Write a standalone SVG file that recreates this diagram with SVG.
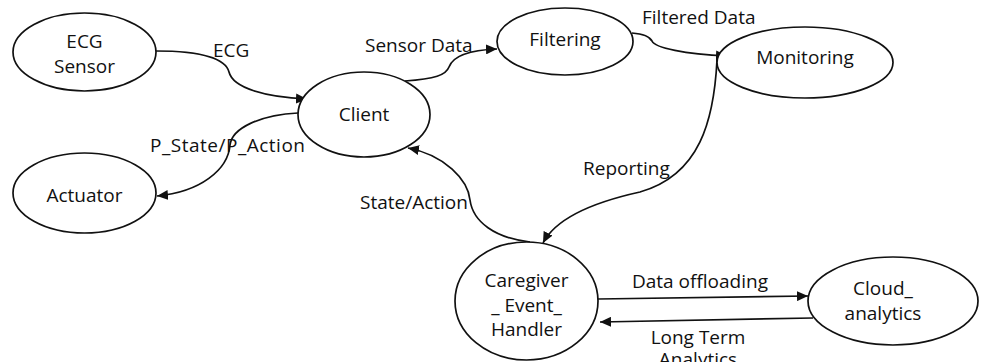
<svg xmlns="http://www.w3.org/2000/svg" width="984" height="362" viewBox="0 0 984 362">
<defs>
<style>
.n ellipse{fill:#fff;stroke:#111;stroke-width:1.7}
text{font-family:"Open Sans","Liberation Sans",sans-serif;font-size:19px;fill:#111}
.n text{text-anchor:middle}
.e path{fill:none;stroke:#111;stroke-width:1.7;marker-end:url(#ah)}
</style>
<marker id="ah" markerUnits="userSpaceOnUse" markerWidth="12" markerHeight="10" refX="11" refY="5" orient="auto">
<path d="M0,0 L11,5 L0,10 z" fill="#111"/>
</marker>
</defs>
<rect width="984" height="362" fill="#fff"/>
<g id="edges" class="e">
<path d="M156,51 C205,51 226,60 229,72 C233,88 265,97 307,99"/>
<path d="M405,81 C435,79 446,75 449,67 C453,56 470,50 497,49"/>
<path d="M632,33 C645,34 650,37 652,41 C655,48 685,54 727,56"/>
<path d="M717,60 C714,120 700,175 640,192 C590,203 555,220 543,243"/>
<path d="M530,242 C495,238 473,222 470,200 C468,180 445,155 408,148"/>
<path d="M298,113 C260,115 232,128 230,145 C228,170 200,192 157,196"/>
<path d="M598,299 L808,296"/>
<path d="M813,318 L600,322"/>
</g>
<g id="labels">
<text x="213" y="57">ECG</text>
<text x="365" y="52">Sensor Data</text>
<text x="642" y="24">Filtered Data</text>
<text x="583" y="175">Reporting</text>
<text x="360" y="209">State/Action</text>
<text x="150" y="152" textLength="155">P_State/P_Action</text>
<text x="698" y="344" text-anchor="middle">Long Term</text>
<text x="698" y="366" text-anchor="middle">Analytics</text>
<text x="632" y="288">Data offloading</text>
</g>
<g id="ecg_sensor" class="n"><ellipse cx="84.5" cy="52" rx="71.5" ry="39"/><text x="84.5" y="48">ECG</text><text x="84.5" y="73">Sensor</text></g>
<g id="client" class="n"><ellipse cx="364" cy="114.5" rx="66" ry="42.5"/><text x="364" y="121">Client</text></g>
<g id="filtering" class="n"><ellipse cx="565" cy="41.5" rx="68" ry="33.5"/><text x="565" y="46">Filtering</text></g>
<g id="monitoring" class="n"><ellipse cx="805" cy="62.5" rx="88" ry="35.5"/><text x="805" y="64">Monitoring</text></g>
<g id="actuator" class="n"><ellipse cx="84.5" cy="193" rx="71.5" ry="40"/><text x="84.5" y="202">Actuator</text></g>
<g id="caregiver" class="n"><ellipse cx="526.5" cy="301" rx="71.5" ry="59"/><text x="526.5" y="287">Caregiver</text><text x="526.5" y="312">_ Event_</text><text x="526.5" y="336">Handler</text></g>
<g id="cloud" class="n"><ellipse cx="893" cy="301" rx="85" ry="44"/><text x="883" y="295">Cloud_</text><text x="883" y="320">analytics</text></g>
</svg>
